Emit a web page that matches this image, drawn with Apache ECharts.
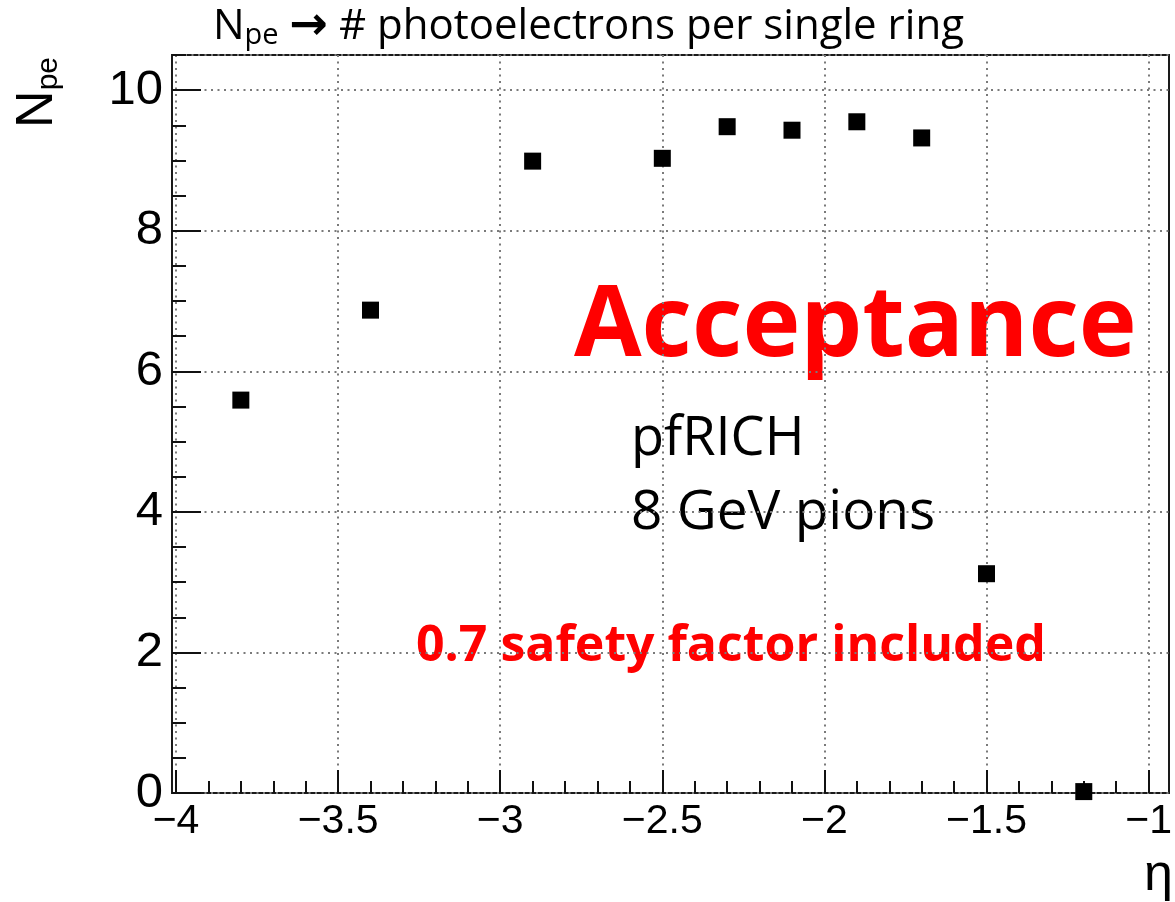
<!DOCTYPE html>
<html>
<head>
<meta charset="utf-8">
<script src="https://cdn.jsdelivr.net/npm/echarts@6/dist/echarts.min.js"></script>
<style>
  html, body { margin: 0; padding: 0; background: #ffffff; }
  #chart { width: 1175px; height: 902px; }
</style>
</head>
<body>
<div id="chart"></div>
<script>
// Pseudorapidity of each simulated point and the mean number of photoelectrons per ring
const eta = [-3.8, -3.4, -2.9, -2.5, -2.3, -2.1, -1.9, -1.7, -1.5, -1.2];
const npe = [5.59, 6.87, 8.99, 9.03, 9.48, 9.43, 9.55, 9.32, 3.12, 0.02];

// Axis tick values and their printed labels
const xTickValues = [-4, -3.5, -3, -2.5, -2, -1.5, -1];
const xTickLabels = ['\u22124', '\u22123.5', '\u22123', '\u22122.5', '\u22122', '\u22121.5', '\u22121'];
const yTickValues = [0, 2, 4, 6, 8, 10];
const yTickLabels = ['0', '2', '4', '6', '8', '10'];

const chart = echarts.init(document.getElementById('chart'), null, { renderer: 'canvas' });

const dotted = { color: '#7a7a7a', width: 2, type: [2, 4.5] };
const axisFont = 'Liberation Sans';
const textFont = 'Open Sans';

function labelFor(values, labels) {
  return function (v) {
    for (let i = 0; i < values.length; i++) {
      if (Math.abs(values[i] - v) < 1e-6) return labels[i];
    }
    return '';
  };
}

chart.setOption({
  backgroundColor: '#ffffff',
  animation: false,
  grid: [
    // frame (the pad frame is a little wider than the axis range)
    { left: 172, right: 6, top: 55, bottom: 109, show: true, borderColor: '#1a1a1a', borderWidth: 2, backgroundColor: 'transparent' },
    // data area spanning eta = -4 .. -1
    { left: 176, right: 17, top: 55, bottom: 109 }
  ],
  xAxis: [
    { gridIndex: 0, type: 'value', min: -4.012, max: -0.963, show: false },
    {
      gridIndex: 1, type: 'value', min: -4, max: -1, interval: 0.5,
      axisLine: { show: false },
      axisTick: { show: true, inside: true, length: 23, lineStyle: { color: '#111', width: 2 } },
      minorTick: { show: true, splitNumber: 5, length: 12, lineStyle: { color: '#111', width: 2 } },
      axisLabel: {
        show: true, margin: 8, color: '#000', fontFamily: axisFont, fontSize: 41,
        showMinLabel: true, showMaxLabel: true,
        formatter: labelFor(xTickValues, xTickLabels)
      },
      splitLine: { show: true, lineStyle: dotted }
    }
  ],
  yAxis: [
    {
      gridIndex: 0, type: 'value', min: 0, max: 10.5, interval: 2,
      axisLine: { show: false },
      axisTick: { show: true, inside: true, length: 29, lineStyle: { color: '#111', width: 2 } },
      axisLabel: {
        show: true, margin: 9, color: '#000', fontFamily: axisFont, fontSize: 49,
        showMinLabel: true, showMaxLabel: false,
        formatter: labelFor(yTickValues, yTickLabels)
      },
      splitLine: { show: true, lineStyle: dotted }
    },
    {
      // minor ticks every 0.5
      gridIndex: 0, type: 'value', min: 0, max: 10.5, interval: 0.5, position: 'left',
      axisLine: { show: false },
      axisTick: { show: true, inside: true, length: 14, lineStyle: { color: '#111', width: 2 } },
      axisLabel: { show: false },
      splitLine: { show: false }
    },
    { gridIndex: 1, type: 'value', min: 0, max: 10.5, show: false }
  ],
  series: [
    {
      type: 'scatter',
      xAxisIndex: 1,
      yAxisIndex: 2,
      symbol: 'rect',
      symbolSize: 17,
      itemStyle: { color: '#000', opacity: 1 },
      data: eta.map((x, i) => [x, npe[i]])
    }
  ],
  graphic: [
    {
      type: 'text', x: 213, y: 27,
      style: {
        text: 'N{sub|pe} {arr|\u2192} # photoelectrons per single ring',
        fontFamily: textFont, fontSize: 42, fill: '#000',
        textAlign: 'left', textVerticalAlign: 'middle',
        rich: {
          sub: { fontFamily: textFont, fontSize: 29, lineHeight: 24, verticalAlign: 'bottom', fill: '#000' },
          arr: { fontFamily: 'DejaVu Sans', fontWeight: 'bold', fontSize: 46, fill: '#000' }
        }
      }
    },
    {
      type: 'text', x: 38, y: 57, rotation: Math.PI / 2,
      style: {
        text: 'N{sub|pe}',
        fontFamily: axisFont, fontSize: 52, fill: '#000',
        textAlign: 'right', textVerticalAlign: 'middle',
        rich: { sub: { fontFamily: axisFont, fontSize: 30, lineHeight: 24, verticalAlign: 'bottom', fill: '#000' } }
      }
    },
    {
      type: 'text', x: 1173, y: 876,
      style: { text: '\u03b7', fontFamily: axisFont, fontSize: 52, fill: '#000', textAlign: 'right', textVerticalAlign: 'middle' }
    },
    {
      type: 'text', x: 574, y: 328,
      style: { text: 'Acceptance', fontFamily: textFont, fontWeight: 'bold', fontSize: 98, fill: '#ff0000', textAlign: 'left', textVerticalAlign: 'middle' }
    },
    {
      type: 'text', x: 631, y: 440,
      style: { text: 'pfRICH', fontFamily: textFont, fontSize: 54, fill: '#000', textAlign: 'left', textVerticalAlign: 'middle' }
    },
    {
      type: 'text', x: 631, y: 513,
      style: { text: '8 GeV pions', fontFamily: textFont, fontSize: 55, fill: '#000', textAlign: 'left', textVerticalAlign: 'middle' }
    },
    {
      type: 'text', x: 416, y: 647,
      style: { text: '0.7 safety factor included', fontFamily: textFont, fontWeight: 'bold', fontSize: 50, fill: '#ff0000', textAlign: 'left', textVerticalAlign: 'middle' }
    }
  ]
});
</script>
</body>
</html>
